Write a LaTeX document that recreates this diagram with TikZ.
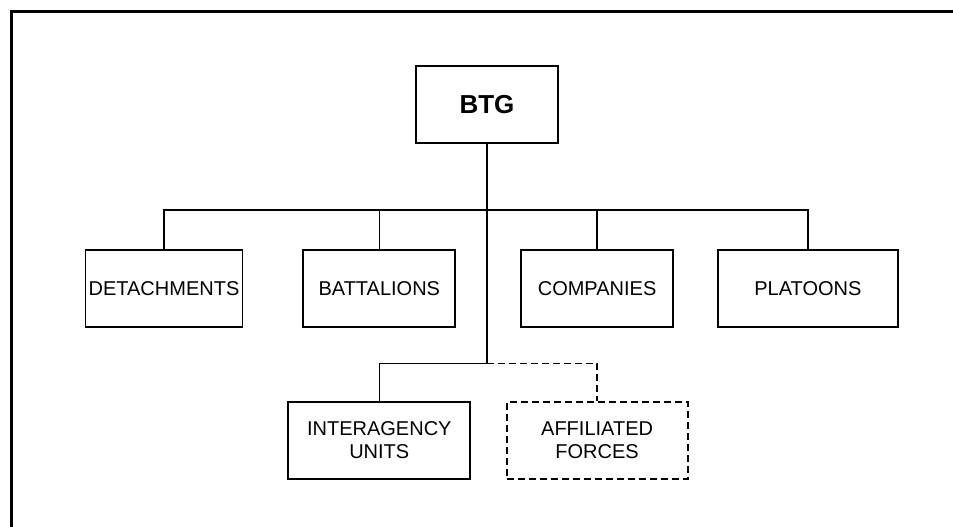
\documentclass[tikz,border=0pt]{standalone}
\usepackage{fontspec}
\setmainfont{Liberation Sans}
\usetikzlibrary{positioning,calc}

\tikzset{
  unit/.style={draw, line width=1.8pt, minimum height=77pt, inner sep=2pt, align=center,
    font=\fontsize{20pt}{23pt}\selectfont},
  link/.style={line width=1.6pt}
}

\begin{document}
\begin{tikzpicture}[x=1pt,y=1pt]
  \useasboundingbox (0,0) rectangle (953,-527);
  \draw[line width=3pt] (11.5,-530) -- (11.5,-11.5) -- (956,-11.5);

  \node[unit, minimum width=142pt, font=\fontsize{26pt}{30pt}\selectfont\bfseries] (btg) at (487,-104.5) {BTG};
  \node[unit, minimum width=157pt] (det) at (164,-288.5) {DETACHMENTS};
  \node[unit, minimum width=152pt, right = 59pt of det] (btl) {BATTALIONS};
  \node[unit, minimum width=152pt, right = 64pt of btl] (com) {COMPANIES};
  \node[unit, minimum width=180pt, right = 43pt of com] (plt) {PLATOONS};
  \node[unit, minimum width=182pt, below = 73pt of btl] (int) {INTERAGENCY\\UNITS};
  \node[unit, minimum width=181pt, below = 73pt of com, dash pattern=on 7pt off 4pt] (aff) {AFFILIATED\\FORCES};

  \coordinate (bus) at ($(btg.south)+(0,-66)$);
  \coordinate (low) at ($(btg.south)+(0,-219.5)$);

  \draw[link] (btg.south) -- (low);
  \draw[link] (det.north) |- (bus) -| (plt.north);
  \draw[link] (btl.north) -- (btl.north |- bus);
  \draw[link] (com.north) -- (com.north |- bus);
  \draw[link] (low) -| (int.north);
  \draw[link, dash pattern=on 7pt off 4pt] (low) -| (aff.north);

\end{tikzpicture}
\end{document}
